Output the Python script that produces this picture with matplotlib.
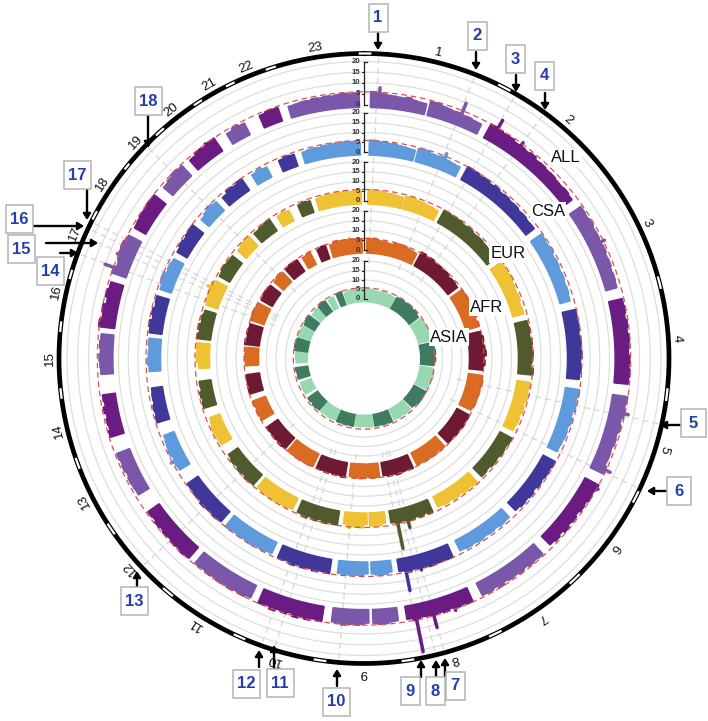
import numpy as np
import matplotlib
matplotlib.use("Agg")
import matplotlib.pyplot as plt

plt.rcParams['font.family'] = ['Liberation Sans', 'DejaVu Sans']

# ---- genome segments (degrees clockwise from the top) ----
SEG_NAME = ['1p','1q','2','3','4','5','6','7','8','9p','9q','10','11','12','13','14','15','16','17','18','19','20','21','22','23']
SEG_CHR = [1,1,2,3,4,5,6,7,8,9,9,10,11,12,13,14,15,16,17,18,19,20,21,22,23]
SEG_START = [1.5,14.6,28.5,55,77,98.3,118.4,137.6,155.9,172.6,179,189.2,205.4,221.3,238.9,252.8,266.6,276.9,288.8,299.7,310.5,318.7,328.6,336.7,343.3]
SEG_END = [13.8,26.6,52.6,74.3,95.5,115.7,135,153.4,170.6,178,187,203.4,219.5,234.6,248.9,262,275.3,286.8,297.6,307.9,316.6,325.7,333,341,358.9]

# ---- envelope of each segment, per cohort (-log10 p) ----
ALL_ENV = [
 [5.2,4.6,4.4,4.0,3.9,3.7,3.6,4.2,3.4,3.1,3.0],[4.6,4.7,4.0,3.8,3.5,3.7,3.2,3.4,3.0,2.9],
 [5.2,4.9,4.4,4.5,3.8,4.0,3.6,4.2,3.3,3.6,3.2,3.4,3.0,2.9,3.3,2.8],[4.2,3.9,4.4,3.8,4.0,3.6,4.1,3.5,3.8,3.2,3.5,3.2],
 [4.3,4.5,3.9,4.6,4.1,4.8,4.4,4.0,4.7,4.3,4.9,4.4],[5.0,4.4,4.8,3.9,4.5,3.8,4.2,3.6,3.9,3.7,4.6],
 [5.2,4.5,4.9,4.0,4.4,3.6,4.3,3.7,4.6,3.4,4.2,3.5],[4.4,4.0,4.5,3.8,4.6,4.0,4.3,3.7,4.9,3.8,4.5,4.2],
 [4.9,4.3,4.8,4.1,5.0,4.3,4.7,4.4,4.2,5.1,4.0],[4.0,4.2,4.8,4.9,4.3],[4.1,4.6,5.1,4.7,5.0,5.4,4.6,4.4],
 [5.0,4.4,5.4,4.6,5.6,4.2,5.2,4.5,5.6,4.3,4.9],[4.2,5.0,4.5,5.2,4.6,5.1,4.4,4.9,4.3,4.6],[4.6,5.2,4.4,5.0,4.2,4.8,4.0,4.6,3.8,4.3],
 [3.6,3.9,4.1,3.5,4.2,3.8,4.3],[4.6,3.8,4.2,3.6,4.4,3.4,3.9],[3.6,3.9,4.3,3.7,4.2,3.8],[5.4,4.3,5.0,3.6,4.8,4.0],
 [5.0,3.8,4.4,5.2,5.6,4.6],[3.9,4.2,4.6,4.4,5.0,4.8],[3.6,4.2,5.0,4.4],[3.8,4.9,4.3,5.1],[3.5,4.6,3.9],[4.0,4.7,4.5],
 [3.4,3.6,3.9,3.7,4.2,3.9,4.3,4.0,4.4,4.7,4.2,4.6],
]
CSA_ENV = [
 [5.3,5.0,4.7,4.6,4.2,4.4,3.9,3.7,3.4,3.2],[4.5,4.8,3.9,3.8,4.2,3.6,3.3,3.1],
 [5.2,5.0,4.3,4.7,3.8,4.4,3.6,4.0,3.5,3.7,3.1,3.4,2.9,3.1],[4.4,4.0,4.5,3.6,4.0,3.5,3.8,3.2,3.5,3.0],
 [4.6,4.3,4.8,4.2,4.9,4.4,5.1,4.3,4.7,4.1],[5.0,4.2,4.6,3.7,4.4,3.6,4.0,3.5,3.2],
 [4.8,4.2,4.4,3.8,4.3,3.4,4.2,3.6,4.0,3.3],[3.6,4.0,3.4,3.9,3.5,4.2,3.6,4.0,3.5],
 [4.9,4.5,4.8,5.2,4.4,4.7,4.2,5.3,4.0],[3.6,4.4,4.7,4.4,3.8],[3.7,4.6,4.4,4.7,4.5,4.4,4.2],
 [5.0,4.5,5.3,4.4,5.2,4.3,5.4,4.2,4.8],[4.0,4.6,4.2,5.0,4.4,4.7,4.3,5.0],[4.6,5.2,4.4,4.9,5.5,4.3,4.8,4.2,4.4],
 [3.8,4.2,3.6,4.5,4.0,3.7,3.3],[4.4,3.8,4.2,3.4,3.6,3.3],[3.6,4.4,3.9,3.6,4.1],[4.2,5.0,3.7,4.6,3.6,4.2],
 [3.7,4.6,5.2,3.6,4.0,3.4],[3.6,4.4,3.8,4.4,4.8],[3.0,3.9,4.8,3.8],[3.2,4.6,4.0,4.9],[3.6,4.4,3.4],[3.8,4.4,4.0],
 [3.6,4.0,4.2,3.8,4.4,4.2,4.6,4.3,4.8,4.4,4.6,4.2],
]
EUR_ENV = [
 [5.0,4.5,4.6,4.2,3.9,4.0,3.6,3.4],[4.4,4.6,4.0,3.9,3.6,3.4,3.1],
 [4.9,4.4,4.6,4.0,4.4,3.7,4.0,3.6,3.4,3.2],[4.6,4.2,4.8,4.0,3.6,3.9,3.2,3.5],
 [4.2,4.6,4.1,5.0,4.4,5.2,4.6,4.0,5.4],[4.6,4.0,4.5,3.6,4.2,3.4,3.8,3.2],
 [4.6,4.0,4.4,3.8,4.2,3.4,3.9],[4.4,3.9,4.4,3.6,4.2,3.5,4.0,3.4],
 [4.8,3.8,4.6,3.9,4.8,4.2,4.0,4.6,3.9],[3.6,4.4,4.6,4.4],[3.6,5.2,4.6,4.8,4.4,3.8],
 [4.9,4.2,5.2,4.0,5.2,4.1,5.4,4.3],[4.0,4.6,4.2,4.9,4.5,4.8,4.2],[4.6,5.2,4.0,4.8,3.8,4.4,3.6],
 [3.8,4.2,4.0,4.5,3.7,3.2],[4.4,3.8,4.4,3.4,3.7],[3.2,4.4,4.0,4.4],[4.8,3.9,5.0,3.8,4.3,3.6],
 [4.0,4.6,5.2,5.0,4.2],[3.8,4.6,4.2,4.0],[3.5,4.4,4.6],[3.7,4.2,4.7],[3.7,4.3,3.6],[4.0,4.4,3.9],
 [3.8,4.2,4.4,4.1,4.6,4.4,4.8,4.2,4.5,4.6],
]
AFR_ENV = [
 [5.2,4.9,5.4,4.6,4.3,4.5,4.0,3.8],[4.6,4.9,4.4,4.7,4.2,4.0,3.7],
 [5.6,5.0,5.4,4.4,4.9,4.3,4.8,3.8,4.2,3.8],[4.9,5.2,4.6,5.5,4.7,5.4,4.2,4.8],
 [4.9,5.6,5.2,5.7,6.2,5.1,5.6,4.7],[5.0,5.6,4.6,5.3,4.8,5.2,4.4],
 [5.0,4.6,5.2,4.4,5.0,4.2,4.7],[4.7,4.2,4.9,4.4,4.8,4.3,4.6],
 [5.2,4.6,5.0,5.5,4.7,5.2,4.4],[4.8,5.0,4.6],[4.8,5.2,4.7,5.0,4.4],
 [5.4,4.6,5.1,4.4,5.2,4.6,4.9],[4.8,5.2,4.6,5.3,4.6,5.0],[5.0,5.4,4.6,5.1,4.5,4.8],
 [4.6,5.0,4.4,4.8],[4.9,4.2,4.6,4.4],[4.4,4.7,4.3],[5.2,4.4,5.0,4.5],[5.0,5.4,4.6],[4.2,4.9,4.5],[4.1,4.8,4.4],[4.4,5.0,4.7],[4.0,4.6],[4.3,5.0],
 [4.3,5.6,5.0,5.2,4.8,5.0,4.6,4.9],
]
ASIA_ENV = [
 [4.8,4.3,4.4,4.0,3.8,3.6],[4.4,4.0,3.9,3.6],
 [4.4,4.9,4.2,4.6,4.8,4.1,4.5,3.8],[4.2,4.8,4.6,5.0,5.3,5.2,4.4],
 [4.4,5.2,5.6,5.0,5.5,4.8],[4.6,5.2,5.5,4.7,5.0,4.2],
 [4.8,4.2,4.6,4.9,4.2,3.9],[3.9,4.2,3.6,4.0,3.8],[4.2,3.8,4.1,3.7,3.9],
 [3.9,3.8],[3.6,3.8,3.7],[3.9,3.6,4.0,3.7,3.9],[3.6,3.9,3.5,3.8],[3.8,4.2,3.5,4.0],
 [3.7,3.9,3.6],[4.0,3.5,3.9,4.2],[3.6,3.9,3.8],[4.4,4.9,4.2,4.5],[4.2,4.6,3.9],[4.0,4.6,4.4],[3.4,4.0],[4.2,4.8,4.5],[3.6,4.2],[4.6,5.0],
 [3.6,4.0,4.4,4.8,4.2,4.6,4.9,4.6],
]

# ---- association peaks rising above the envelope ----
ALL_PEAK_ANGLE = [3.4,21.8,30.2,36.4,63.8,102,114.8,119.2,164.8,168.6,160,290,293,323.5]
ALL_PEAK_VALUE = [8.0,9.7,10.0,6.5,6.5,7.5,8.0,6.5,11.5,21.0,6.5,10.0,6.5,6.0]
CSA_PEAK_ANGLE = [22.0,164.8,168.8,241.5]
CSA_PEAK_VALUE = [7.4,6.5,15.4,6.6]
EUR_PEAK_ANGLE = [164.8,168.4,185.0,295.0,296.5]
EUR_PEAK_VALUE = [9.0,18.7,6.2,7.5,6.2]
AFR_PEAK_ANGLE = [65.0,353.0]
AFR_PEAK_VALUE = [6.3,6.0]
ASIA_PEAK_ANGLE = [350.0]
ASIA_PEAK_VALUE = [5.3]

TRACK_NAME = ['ALL','CSA','EUR','AFR','ASIA']
TRACK_ENV = [ALL_ENV,CSA_ENV,EUR_ENV,AFR_ENV,ASIA_ENV]
TRACK_PEAK_ANGLE = [ALL_PEAK_ANGLE,CSA_PEAK_ANGLE,EUR_PEAK_ANGLE,AFR_PEAK_ANGLE,ASIA_PEAK_ANGLE]
TRACK_PEAK_VALUE = [ALL_PEAK_VALUE,CSA_PEAK_VALUE,EUR_PEAK_VALUE,AFR_PEAK_VALUE,ASIA_PEAK_VALUE]
TRACK_R0 = [254,206.5,157.5,108.5,59.5]
TRACK_R20 = [297,245.5,196.5,147.5,97.5]
TRACK_BASE = [-1.2,-1.4,-1.4,-1.4,-1.9]
LIGHT = ['#7B57A9','#5F9BDC','#EFC135','#D96B22','#98D8B1']
DARK = ['#6B1C82','#3F389A','#4F5B2C','#6E1A33','#3F7B60']
TRACK_LABEL_XY = [(566,158),(548,211),(508,254),(487,307),(449,337)]
Y_TICKS = [0,5,10,15,20]
THRESHOLD = 5.9
ENV_LIFT = 0.7

# ---- outer ring ----
CHR_LABEL = [str(i) for i in range(1,24)]
CHR_LABEL_ANGLE = [13.7,40.5,64.4,86.3,106.9,127,145.5,163.3,180,196.6,212.4,228.2,243,256.7,270,282.2,293.3,303.8,313.4,322.2,330.5,338,351]
RING_GAP_CENTER = [0.2,27.4,75.6,96.8,117,136.3,154.5,171.7,188.3,204.1,220,236,249.9,263.4,276,286,298,309,318,327,334,342.2]
RING_GAP_WIDTH = [2.4,2.6,2.4,2.4,2.4,2.6,2.6,2.4,2.4,2.4,2.4,2.4,2.2,2.0,2.0,1.8,1.8,1.4,2.0,1.8,1.8,2.0]

# ---- marked loci ----
LOCUS_ANGLE = [2.8,21.4,29.9,36.3,102.5,115.3,164.7,166.4,169,184.8,197.2,199.7,226.8,290.2,293.5,295.2,296.6,314.3]
LOCUS_BOX = [(378,18),(477,36),(515,59),(544,76),(693,423),(679,491),(455,686),(435,691),(410,691),(336,702),(280,683),(246,684),(134,601),(50,271),(21,249),(19,219),(77,175),(148,101)]
LOCUS_BOX_W = [19,19,19,19,25,24,19,19,19,27,27,27,27,27,27,27,27,27]
LOCUS_ARROW = [((378,33),(378,50)),((476,52),(476,70)),((516,75),(516,92)),((545,93),(545,110)),
               ((680,425),(660,425)),((667,491),(647,491)),((445,677),(445,658)),((436,677),(436,660)),((421,677),(421,660)),
               ((337,686),(337,669)),((274,670),(274,645)),((259,667),(259,650)),((137,587),(137,571)),
               ((60,253),(78,253)),((46,243),(98,243)),((33,226),(84,226)),((87,188),(87,220)),((148,115),(148,148))]

W, H, DPI = 708, 721, 100
CX, CY, RMAX = 364, 358.5, 330
fig = plt.figure(figsize=(W/DPI, H/DPI), dpi=DPI, facecolor='white')
ax = fig.add_axes([(CX-RMAX)/W, (H-CY-RMAX)/H, 2*RMAX/W, 2*RMAX/H], projection='polar')
ax.set_theta_zero_location('N')
ax.set_theta_direction(-1)
ax.set_ylim(0, RMAX)
ax.axis('off')
full = np.linspace(0, 2*np.pi, 1441)

# grid circles and thresholds
for r0, r20 in zip(TRACK_R0, TRACK_R20):
    s = (r20-r0)/20
    for v in [10, 15, 20]:
        ax.plot(full, np.full_like(full, r0+v*s), color='#DEDEDE', lw=0.9, zorder=1)

# locus spokes
for a in LOCUS_ANGLE:
    ax.plot(np.radians([a, a]), [95, 303], color='#D6D6D6', lw=0.9, ls=(0, (5, 3)), zorder=1.5)

# bands
for t, name in enumerate(TRACK_NAME):
    r0, s = TRACK_R0[t], (TRACK_R20[t]-TRACK_R0[t])/20
    base = r0 + TRACK_BASE[t]*s
    for k, env in enumerate(TRACK_ENV[t]):
        col = LIGHT[t] if SEG_CHR[k] % 2 else DARK[t]
        edges = np.linspace(SEG_START[k], SEG_END[k], len(env)+1)
        th, rr = [], []
        for i, v in enumerate(env):
            seg = np.linspace(edges[i], edges[i+1], 5)
            th.extend(seg)
            rr.extend([r0+(v+ENV_LIFT)*s]*5)
        th = np.array(th)
        poly_t = np.radians(np.concatenate([th, th[::-1]]))
        poly_r = np.concatenate([rr, np.full_like(th, base)])
        ax.fill(poly_t, poly_r, fc=col, ec=col, lw=1.5, joinstyle='round', zorder=3)
    for a, v in zip(TRACK_PEAK_ANGLE[t], TRACK_PEAK_VALUE[t]):
        k = next((i for i in range(len(SEG_START)) if SEG_START[i]-0.6 <= a <= SEG_END[i]+0.6), 0)
        col = LIGHT[t] if SEG_CHR[k] % 2 else DARK[t]
        ax.plot(np.radians([a, a]), [r0+2*s, r0+v*s], color=col, lw=2.5, solid_capstyle='round', zorder=3)
    ax.plot(full, np.full_like(full, r0+THRESHOLD*s), color='#D8504C', lw=0.9, ls=(0, (4.5, 3)), zorder=4)

# white core
ax.fill(full, np.full_like(full, 56), fc='white', ec='none', zorder=3.5)

# outer ring
ax.plot(full, np.full_like(full, 305), color='black', lw=3.4, zorder=5)
for c, w in zip(RING_GAP_CENTER, RING_GAP_WIDTH):
    seg = np.radians(np.linspace(c-w/2, c+w/2, 12))
    ax.plot(seg, np.full_like(seg, 305), color='white', lw=1.6, solid_capstyle='butt', zorder=6)
for lab, a in zip(CHR_LABEL, CHR_LABEL_ANGLE):
    ax.text(np.radians(a), 314, lab, rotation=-a, rotation_mode='anchor', ha='center', va='center',
            fontsize=9.5, color='#111111', zorder=6)

# overlay in pixels: y axes, labels, arrows, boxes
ov = fig.add_axes([0, 0, 1, 1], facecolor='none')
ov.set_xlim(0, W)
ov.set_ylim(H, 0)
ov.axis('off')
AX_X = 363.5
for t in range(5):
    r0, s = TRACK_R0[t], (TRACK_R20[t]-TRACK_R0[t])/20
    ys = [CY-(r0+v*s) for v in Y_TICKS]
    ov.plot([AX_X, AX_X], [ys[0], ys[-1]], color='#222222', lw=0.9)
    for v, y in zip(Y_TICKS, ys):
        if v in (0, 20):
            ov.plot([AX_X, AX_X+3], [y, y], color='#222222', lw=0.9)
        else:
            ov.plot([AX_X-2, AX_X], [y, y], color='#222222', lw=0.8)
        ov.text(AX_X-3.5, y, str(v), ha='right', va='center', fontsize=5.6, fontweight='bold', color='#333333')

for name, (x, y) in zip(TRACK_NAME, TRACK_LABEL_XY):
    ov.text(x, y, name, ha='center', va='center', fontsize=12, color='#111111',
            bbox=dict(fc='white', ec='none', pad=0.8), zorder=7)

for i, (bx, by) in enumerate(LOCUS_BOX):
    (x0, y0), (x1, y1) = LOCUS_ARROW[i]
    ov.annotate('', xy=(x1, y1), xytext=(x0, y0), zorder=8,
                arrowprops=dict(arrowstyle='-|>,head_width=0.22,head_length=0.35', color='black', lw=1.7,
                                shrinkA=0, shrinkB=0))
for i in [6, 7, 8, 9, 10, 11, 12, 0, 1, 2, 3, 4, 5, 13, 14, 15, 16, 17]:
    bx, by = LOCUS_BOX[i]
    w = LOCUS_BOX_W[i]
    ov.add_patch(plt.Rectangle((bx-w/2, by-14), w, 28, fc='white', ec='#B4B4B4', lw=1.1, zorder=9))
    ov.text(bx, by, str(i+1), ha='center', va='center', fontsize=12, fontweight='bold', color='#2440A8', zorder=10)

fig.savefig('out.png', dpi=DPI, facecolor='white')
